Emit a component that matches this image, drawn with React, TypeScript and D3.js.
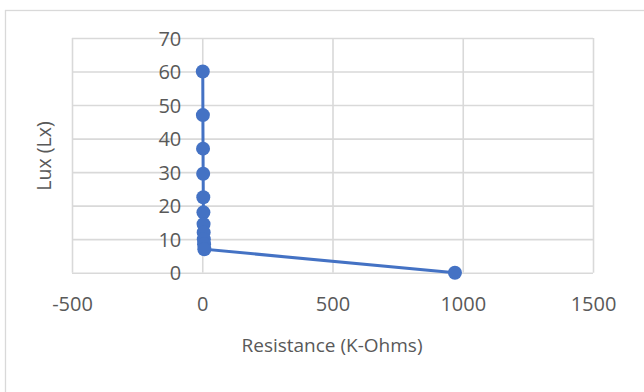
import * as d3 from "d3";
import { useEffect, useRef } from "react";

// readings: resistance in K-Ohms vs lux
const resistance = [2, 2.5, 3, 3.5, 4, 4.5, 5, 5.5, 6, 7, 8, 970];
const lux = [60, 47, 37, 29.5, 22.5, 18, 14.5, 12, 10, 8.5, 7, 0];
const xTicks = [-500, 0, 500, 1000, 1500];
const yTicks = [0, 10, 20, 30, 40, 50, 60, 70];

const W = 644;
const H = 392;

const App = () => {
  const svgRef = useRef<SVGSVGElement>(null);

  useEffect(() => {
    const svg = d3.select(svgRef.current);
    svg.selectAll("*").remove();

    const left = 72, right = 593, top = 38, bottom = 272.7;
    const x = d3.scaleLinear().domain([-500, 1500]).range([left, right]);
    const y = d3.scaleLinear().domain([0, 70]).range([bottom, top]);
    const grid = "#d9d9d9";
    const textCol = "#595959";
    const font = "'Open Sans', sans-serif";
    const plain = (d: d3.NumberValue) => String(d);

    // chart border
    svg.append("rect")
      .attr("x", 5.5).attr("y", 10.5)
      .attr("width", 700).attr("height", 420)
      .attr("fill", "white").attr("stroke", grid).attr("stroke-width", 1.3);

    // vertical gridlines
    const gx = svg.append("g").attr("transform", `translate(0,${bottom})`)
      .call(d3.axisBottom(x).tickValues(xTicks).tickSize(-(bottom - top)).tickFormat(() => ""));
    gx.select(".domain").remove();
    gx.selectAll("line").attr("stroke", grid).attr("stroke-width", 1.6);

    // horizontal gridlines
    const gy = svg.append("g").attr("transform", `translate(${left},0)`)
      .call(d3.axisLeft(y).tickValues(yTicks).tickSize(-(right - left)).tickFormat(() => ""));
    gy.select(".domain").remove();
    gy.selectAll("line").attr("stroke", grid).attr("stroke-width", 1.6);

    // y tick labels next to the axis at x = 0
    const ly = svg.append("g").attr("transform", `translate(${x(0) - 21},0)`)
      .call(d3.axisLeft(y).tickValues(yTicks).tickSize(0).tickPadding(0).tickFormat(plain));
    ly.select(".domain").remove();
    ly.selectAll("text")
      .attr("fill", textCol).style("font-family", font).style("font-size", "20px")
      .attr("dy", "0.35em");

    // x tick labels
    const lx = svg.append("g").attr("transform", `translate(0,${bottom})`)
      .call(d3.axisBottom(x).tickValues(xTicks).tickSize(0).tickPadding(0).tickFormat(plain));
    lx.select(".domain").remove();
    lx.selectAll("text")
      .attr("fill", textCol).style("font-family", font).style("font-size", "20px")
      .attr("y", 31).attr("dy", "0.35em");

    // series line and markers
    const pts = resistance.map((r, i) => [r, lux[i]] as [number, number]);
    svg.append("path")
      .datum(pts)
      .attr("d", d3.line<[number, number]>().x(d => x(d[0])).y(d => y(d[1])))
      .attr("fill", "none").attr("stroke", "#4472c4").attr("stroke-width", 3);
    svg.selectAll(".pt").data(pts).join("circle")
      .attr("cx", d => x(d[0])).attr("cy", d => y(d[1])).attr("r", 7)
      .attr("fill", "#4472c4");

    // axis titles
    svg.append("text")
      .attr("x", 332).attr("y", 345).attr("dy", "0.35em")
      .attr("text-anchor", "middle").attr("fill", textCol)
      .style("font-family", font).style("font-size", "19px")
      .text("Resistance (K-Ohms)");
    svg.append("text")
      .attr("transform", `translate(44,156) rotate(-90)`).attr("dy", "0.35em")
      .attr("text-anchor", "middle").attr("fill", textCol)
      .style("font-family", font).style("font-size", "19.5px")
      .text("Lux (Lx)");
  }, []);

  return (
    <svg ref={svgRef} width={W} height={H}
      style={{ position: "absolute", left: 0, top: 0, background: "white" }} />
  );
};

export default App;
